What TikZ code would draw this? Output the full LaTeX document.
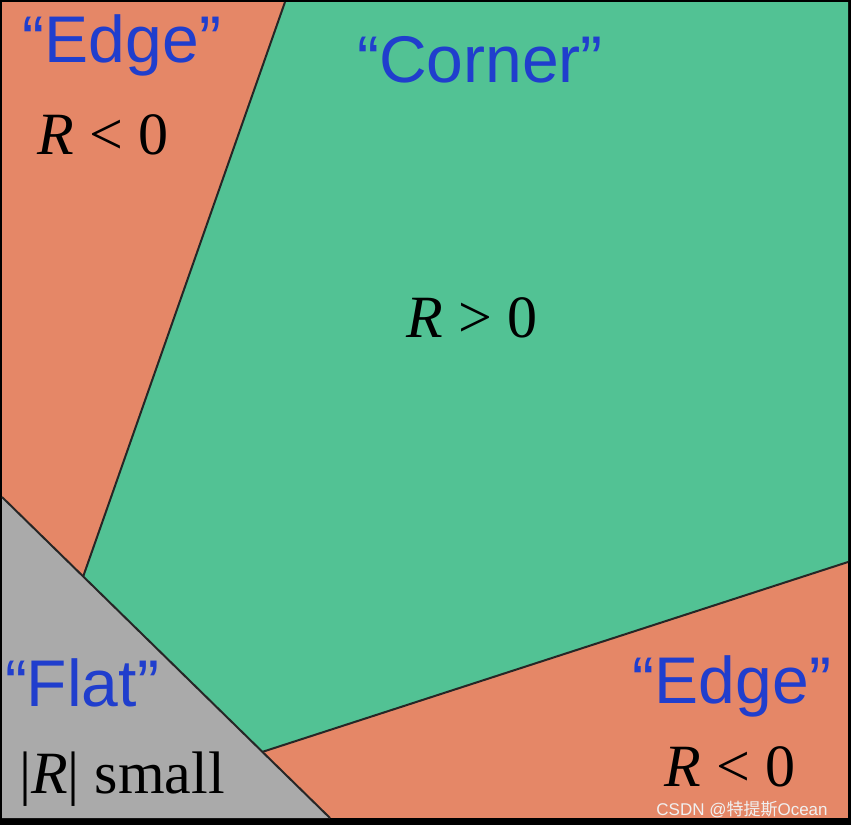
\documentclass[tikz,border=0pt]{standalone}
\usepackage{fontspec}
\setmainfont{Liberation Serif}
\newfontfamily\lblfont{Liberation Sans}
\newfontfamily\cjkfont{Noto Sans CJK SC}
\usepackage{xcolor}
\usetikzlibrary{positioning}

\definecolor{edgeorange}{RGB}{229,135,103}
\definecolor{cornergreen}{RGB}{82,194,148}
\definecolor{flatgray}{RGB}{170,170,170}
\definecolor{lblblue}{RGB}{32,62,205}

\begin{document}
\begin{tikzpicture}[x=0.5pt, y=-0.5pt,
  region/.style={draw=black!85, line width=1pt, line join=round},
  quote/.style={font=\lblfont\fontsize{33}{33}\selectfont, text=lblblue, inner sep=0pt},
  value/.style={font=\fontsize{30}{30}\selectfont, inner sep=0pt, text depth=0pt},
  wmark/.style={font=\lblfont\fontsize{8.5}{8.5}\selectfont, text=white!88!gray, inner sep=0pt, text height=6pt, text depth=0pt}]

% frame and background
\fill[black] (0,0) rectangle (851,825);
\fill[edgeorange] (2,2) rectangle (848,818);

% regions
\fill[cornergreen] (285,2) -- (848,2) -- (848,562) -- (262,752) -- (83,577) -- cycle;
\fill[flatgray] (2,497) -- (330,818) -- (2,818) -- cycle;
\draw[region] (285,2) -- (83,577);
\draw[region] (848,562) -- (262,752);
\draw[region] (2,497) -- (330,818);

% labels
\node[quote] (edgetl) at (122,45) {“Edge”};
\node[value] (rtl) at (103,135) {\textit{R} < 0};
\node[quote] (corner) at (480,60) {“Corner”};
\node[value] (rmid) at (472,318) {\textit{R} > 0};
\node[quote] (flat) at (82,683) {“Flat”};
\node[value] (rflat) at (122,773) {|\textit{R}| small};
\node[quote] (edgebr) at (732,686) {“Edge”};
\node[value] (rbr) at (730,767) {\textit{R} < 0};
\node[wmark] (wm) at (742,809) {CSDN @{\cjkfont 特提斯}Ocean};
\end{tikzpicture}
\end{document}
